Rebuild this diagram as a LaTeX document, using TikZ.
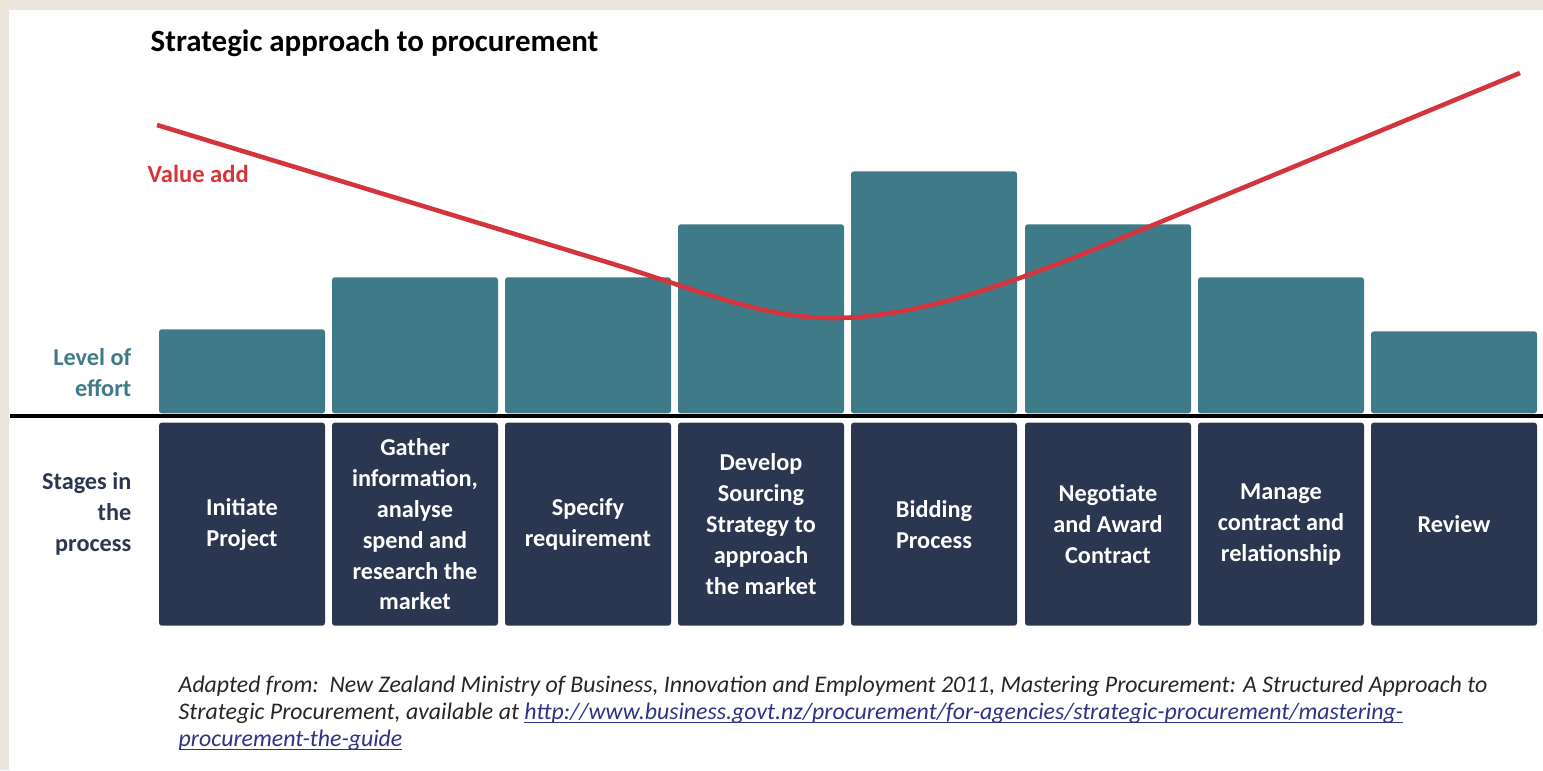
\documentclass[tikz,border=0pt]{standalone}
\usepackage{fontspec}
\setmainfont{Carlito}
\definecolor{effort}{HTML}{3F7A89}
\definecolor{stagebg}{HTML}{2B3650}
\definecolor{valuered}{HTML}{D4353D}
\definecolor{pageedge}{HTML}{EDE6DC}
\definecolor{linkblue}{HTML}{2E3386}
\newcommand\linkline[1]{\setbox0\hbox{#1}\rlap{\rule[-1pt]{\wd0}{0.35pt}}\box0}
\tikzset{
  bar/.style={fill=effort, rounded corners=0.8pt, inner sep=0pt, minimum width=1.66cm, anchor=south},
  stage/.style={fill=stagebg, rounded corners=0.8pt, inner sep=0pt, minimum width=1.66cm,
    minimum height=2.03cm, anchor=north, text=white, align=center,
    font=\fontsize{6.9}{8.8}\selectfont\bfseries},
  side/.style={anchor=east, align=right, inner sep=0pt, font=\fontsize{6.9}{8.8}\selectfont\bfseries}
}
\begin{document}
\begin{tikzpicture}
                \useasboundingbox (0,0) rectangle (15.43,7.70);
                \fill[pageedge] (0,0) rectangle (15.43,7.70);
                \fill[white] (0.09,0) rectangle (15.43,7.60);

                \node[anchor=base west, inner sep=0pt, font=\fontsize{8.8}{10}\selectfont\bfseries]
                    at (1.50,7.18) (title) {Strategic approach to procurement};

                \node[bar, minimum height=0.84cm] at (2.42,3.56) (b1) {};
                \node[bar, minimum height=1.36cm] at (4.15,3.56) (b2) {};
                \node[bar, minimum height=1.36cm] at (5.88,3.56) (b3) {};
                \node[bar, minimum height=1.89cm] at (7.61,3.56) (b4) {};
                \node[bar, minimum height=2.42cm] at (9.34,3.56) (b5) {};
                \node[bar, minimum height=1.89cm] at (11.08,3.56) (b6) {};
                \node[bar, minimum height=1.36cm] at (12.81,3.56) (b7) {};
                \node[bar, minimum height=0.82cm] at (14.54,3.56) (b8) {};

                \draw[line width=1.4pt] (0.10,3.54) -- (15.43,3.54);

                \node[stage] at (2.42,3.48) (s1) {Initiate\\Project};
                \node[stage] at (4.15,3.48) (s2) {Gather\\information,\\analyse\\spend and\\research the\\market};
                \node[stage] at (5.88,3.48) (s3) {Specify\\requirement};
                \node[stage] at (7.61,3.48) (s4) {Develop\\Sourcing\\Strategy to\\approach\\the market};
                \node[stage] at (9.34,3.48) (s5) {Bidding\\Process};
                \node[stage] at (11.08,3.48) (s6) {Negotiate\\and Award\\Contract};
                \node[stage] at (12.81,3.48) (s7) {Manage\\contract and\\relationship};
                \node[stage] at (14.54,3.48) (s8) {Review};

                \node[side, text=effort] at (1.32,3.97) (effortlbl) {Level of\\effort};
                \node[side, text=stagebg] at (1.32,2.56) (stagelbl) {Stages in\\the\\process};

                \draw[valuered, line width=1.3pt] (1.57,6.45) -- (6.00,5.10)
                    .. controls (7.00,4.80) and (7.60,4.52) .. (8.33,4.52)
                    .. controls (9.10,4.52) and (10.00,4.82) .. (11.00,5.23)
                    -- (15.20,6.97);
                \node[anchor=base west, inner sep=0pt, text=valuered, font=\fontsize{7}{8}\selectfont\bfseries]
                    at (1.47,5.87) (value) {Value add};

                \node[anchor=north west, inner sep=0pt, align=left, text=black!85,
                    font=\fontsize{6.78}{7.7}\selectfont\itshape] at (1.78,0.95) (source)
                    {Adapted from:\ \ New Zealand Ministry of Business, Innovation and Employment 2011, Mastering Procurement: A Structured Approach to\\
                     Strategic Procurement, available at \textcolor{linkblue}{\linkline{http://www.business.govt.nz/procurement/for-agencies/strategic-procurement/mastering-}}\\
                     \textcolor{linkblue}{\linkline{procurement-the-guide}}};
            \end{tikzpicture}
\end{document}
